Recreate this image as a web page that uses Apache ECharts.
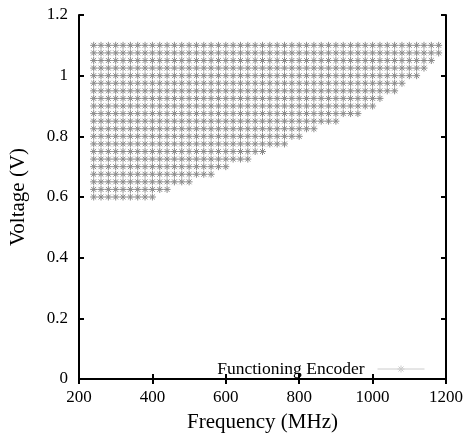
<!DOCTYPE html>
<html>
<head>
<meta charset="utf-8">
<script src="https://cdn.jsdelivr.net/npm/echarts@6/dist/echarts.min.js"></script>
<style>
html,body{margin:0;padding:0;background:#fff;}
#c{width:466px;height:438px;}
</style>
</head>
<body>
<div id="c"></div>
<script>
// Tested frequencies (MHz)
const frequencies = [240,260,280,300,320,340,360,380,400,420,440,460,480,500,520,540,560,580,600,620,640,660,680,700,720,740,760,780,800,820,840,860,880,900,920,940,960,980,1000,1020,1040,1060,1080,1100,1120,1140,1160,1180];
// Voltage rows (V)
const voltages = [0.6,0.625,0.65,0.675,0.7,0.725,0.75,0.775,0.8,0.825,0.85,0.875,0.9,0.925,0.95,0.975,1.0,1.025,1.05,1.075,1.1];
// Highest functioning frequency at each voltage row (MHz)
const maxFreq = [400,440,500,560,600,660,700,760,800,840,900,960,1000,1020,1060,1080,1120,1140,1160,1180,1180];
const xTicks = [200,400,600,800,1000,1200];
const yTicks = [0,0.2,0.4,0.6,0.8,1,1.2];
const seriesName = 'Functioning Encoder';

const star = 'path://M0,5L10,5M5,0L5,10M1.5,1.5L8.5,8.5M8.5,1.5L1.5,8.5';
const legendIcon = 'path://M0,4L47,4M20,4L27,4M23.5,0.5L23.5,7.5M21,1.5L26,6.5M26,1.5L21,6.5';
const font = 'Liberation Serif';

const series = voltages.map((v, i) => ({
  name: seriesName,
  type: 'line',
  symbol: star,
  symbolSize: 7,
  showSymbol: true,
  silent: true,
  animation: false,
  lineStyle: {color: '#dddddd', width: 1},
  itemStyle: {color: 'rgba(0,0,0,0)', borderColor: '#8a8a8a', borderWidth: 1},
  data: frequencies.filter(f => f <= maxFreq[i]).map(f => [f, v])
}));

const axisCommon = {
  type: 'value',
  axisLine: {show: true, lineStyle: {color: '#000', width: 2}},
  axisTick: {show: true, inside: true, length: 5, lineStyle: {color: '#000', width: 2}},
  splitLine: {show: false}
};

const chart = echarts.init(document.getElementById('c'), null, {renderer: 'canvas'});
chart.setOption({
  backgroundColor: '#fff',
  animation: false,
  grid: {left: 79, top: 15, width: 367, height: 365, containLabel: false},
  legend: {
    data: [{name: seriesName, icon: legendIcon,
            itemStyle: {color: 'rgba(0,0,0,0)', borderColor: '#cccccc', borderWidth: 1}}],
    right: 41, top: 360,
    align: 'right',
    itemWidth: 47, itemHeight: 8,
    padding: 0,
    textStyle: {fontFamily: font, fontSize: 17.5, color: '#000', padding: [0, 8, 0, 0]},
    selectedMode: false
  },
  xAxis: [
    Object.assign({}, axisCommon, {
      position: 'bottom', min: xTicks[0], max: xTicks[xTicks.length-1], interval: 200,
      name: 'Frequency (MHz)', nameLocation: 'middle', nameGap: 33,
      nameTextStyle: {fontFamily: font, fontSize: 21, color: '#000'},
      axisLabel: {fontFamily: font, fontSize: 17, color: '#000', margin: 10, formatter: v => String(v)}
    }),
    Object.assign({}, axisCommon, {
      position: 'top', min: xTicks[0], max: xTicks[xTicks.length-1], interval: 200,
      axisLabel: {show: false}
    })
  ],
  yAxis: [
    Object.assign({}, axisCommon, {
      position: 'left', min: yTicks[0], max: yTicks[yTicks.length-1], interval: 0.2,
      name: 'Voltage (V)', nameLocation: 'middle', nameGap: 50,
      nameTextStyle: {fontFamily: font, fontSize: 21, color: '#000'},
      axisLabel: {fontFamily: font, fontSize: 17, color: '#000', margin: 11}
    }),
    Object.assign({}, axisCommon, {
      position: 'right', min: yTicks[0], max: yTicks[yTicks.length-1], interval: 0.2,
      axisLabel: {show: false}
    })
  ],
  series: series
});
</script>
</body>
</html>
